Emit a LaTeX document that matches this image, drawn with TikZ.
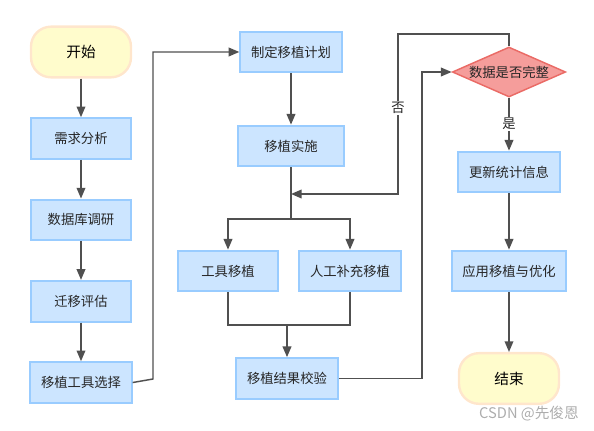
\documentclass[tikz,border=0pt]{standalone}
\usepackage{fontspec}
\setmainfont{Noto Sans CJK SC}
\usepackage{xcolor}
\usetikzlibrary{positioning, arrows.meta, shapes.geometric}
\definecolor{boxfill}{HTML}{CCE5FF}
\definecolor{boxline}{HTML}{99CCFF}
\definecolor{termfill}{HTML}{FFFCCC}
\definecolor{termline}{HTML}{FFE6CC}
\definecolor{decfill}{HTML}{F59D9B}
\definecolor{decline}{HTML}{EA6B66}
\definecolor{wire}{HTML}{505050}
\begin{document}
\begin{tikzpicture}[x=0.75pt, y=-0.75pt, font=\fontsize{10}{12}\selectfont, node distance=29pt,
  blk/.style={draw=boxline, fill=boxfill, line width=1.5pt, minimum width=75pt, minimum height=30.5pt, inner xsep=8pt, text=black!85},
  term/.style={draw=termline, fill=termfill, line width=1.8pt, rounded corners=15pt, minimum width=75pt, minimum height=38pt, font=\fontsize{11}{13}\selectfont},
  dec/.style={diamond, aspect=2.26, draw=decline, fill=decfill, line width=1.1pt, inner sep=0.5pt, minimum width=85pt, minimum height=37.5pt, text=black!85},
  arr/.style={-{Triangle[length=8pt,width=6.5pt]}, draw=wire, line width=1.1pt},
  ln/.style={draw=wire, line width=1.1pt},
  lbl/.style={fill=white, inner sep=1pt, text=black!85}]
\useasboundingbox (0,0) rectangle (594,431);
% left column
\node[term] (start) at (81,52) {开始};
\node[blk, below=of start] (req) {需求分析};
\node[blk, below=of req] (db) {数据库调研};
\node[blk, below=of db] (eval) {迁移评估};
\node[blk, below=of eval] (sel) {移植工具选择};
% middle column
\node[blk] (plan) at (291,52) {制定移植计划};
\node[blk, minimum width=80pt] (impl) at (291,146) {移植实施};
\node[blk] (tool) at (228,271) {工具移植};
\node[blk] (man) at (350,271) {人工补充移植};
\node[blk] (chk) at (287,378.5) {移植结果校验};
% right column
\node[dec] (ok) at (509,72) {数据是否完整};
\node[blk] (stat) at (509,172) {更新统计信息};
\node[blk, minimum width=84pt] (app) at (509,271) {应用移植与优化};
\node[term] (end) at (509,378.5) {结束};
\node[text=black!32, font=\fontsize{11}{13}\selectfont] (mark) at (529,414) {CSDN @先俊恩};
\coordinate (fork) at (291,219);
\coordinate (back) at (291,194);
\coordinate (join) at (287,325);
% connectors
\draw[arr] (start) -- (req);
\draw[arr] (req) -- (db);
\draw[arr] (db) -- (eval);
\draw[arr] (eval) -- (sel);
\draw[arr] (sel.east) -- (153,379) |- (plan.west);
\draw[arr] (plan) -- (impl);
\draw[ln] (impl) -- (fork);
\draw[arr] (fork) -| (tool.north);
\draw[arr] (fork) -| (man.north);
\draw[ln] (tool.south) |- (join);
\draw[ln] (man.south) |- (join);
\draw[arr] (join) -- (chk);
\draw[arr] (chk.east) -- (422,378.5) |- (ok.west);
\draw[arr] (ok.north) -- (509,34) -- (398,34) -- (398,194) node[lbl, pos=0.46] {否} -- (back);
\draw[arr] (ok.south) -- (stat.north) node[lbl, midway] {是};
\draw[arr] (stat) -- (app);
\draw[arr] (app) -- (end);
\end{tikzpicture}
\end{document}
